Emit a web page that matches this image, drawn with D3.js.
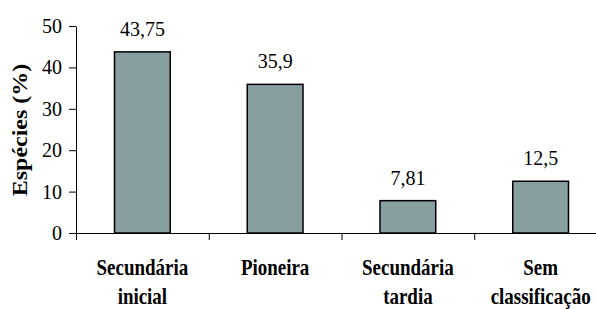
<!DOCTYPE html>
<html><head><meta charset="utf-8">
<script src="https://cdn.jsdelivr.net/npm/d3@7"></script>
<style>
body{margin:0;background:#fff}svg{display:block}
svg text{font-family:"Liberation Serif","Times New Roman",Tinos,serif !important;}
</style>
</head><body>
<svg id="c" width="596" height="309"></svg>
<script>
const categories = [["Secundária","inicial"],["Pioneira"],["Secundária","tardia"],["Sem","classificação"]];
const values = [43.75, 35.9, 7.81, 12.5];
const valueLabels = ["43,75","35,9","7,81","12,5"];
const yTicks = [0,10,20,30,40,50];
const yTitle = "Espécies (%)";

(function(){
const svg = d3.select("#c");
const mL = 76, mR = 607, mT = 26, mB = 233;
const keys = categories.map((c,i)=>i);
const x = d3.scaleBand().domain(keys).range([mL,mR]).paddingInner(0.58).paddingOuter(0.29);
const y = d3.scaleLinear().domain([0,50]).range([mB,mT]);

// y axis
const ya = svg.append("g").attr("transform",`translate(${mL},0)`)
  .call(d3.axisLeft(y).tickValues(yTicks).tickSize(7).tickSizeOuter(0).tickPadding(7));
ya.attr("font-family",null).attr("font-size",null);
ya.selectAll("path,line").attr("stroke","#000").attr("stroke-width",1);
ya.selectAll("text").style("font-size","20px").attr("fill","#000");

// bars
svg.append("g").selectAll("rect").data(values).join("rect")
  .attr("x",(d,i)=>x(i)).attr("width",x.bandwidth())
  .attr("y",d=>y(d)).attr("height",d=>mB-y(d))
  .attr("fill","#879F9E").attr("stroke","#000").attr("stroke-width",1.5);

// x axis
const xb = d3.scaleLinear().domain([0,4]).range([mL,mR]);
const xa = svg.append("g").attr("transform",`translate(0,${mB})`)
  .call(d3.axisBottom(xb).tickValues([0,1,2,3,4]).tickSize(7).tickSizeOuter(0).tickFormat(""));
xa.selectAll("path,line").attr("stroke","#000").attr("stroke-width",1);

// value labels
svg.append("g").selectAll("text").data(values).join("text")
  .attr("x",(d,i)=>x(i)+x.bandwidth()/2).attr("y",d=>y(d)-16)
  .attr("text-anchor","middle").style("font-size","20px")
  .text((d,i)=>valueLabels[i]);

// category labels
const cl = svg.append("g").selectAll("text").data(categories).join("text")
  .attr("text-anchor","middle").style("font-size","24px").style("font-weight","bold")
  .attr("transform",(d,i)=>`translate(${x(i)+x.bandwidth()/2},0) scale(0.79,1)`);
cl.selectAll("tspan").data(d=>d).join("tspan")
  .attr("x",0).attr("y",(d,j)=>275+j*29).text(d=>d);

// y title
svg.append("text").attr("transform","translate(27,130) rotate(-90) scale(1.2,1)")
  .attr("text-anchor","middle").style("font-size","20px").style("font-weight","bold")
  .text(yTitle);
})();
</script>
</body></html>
